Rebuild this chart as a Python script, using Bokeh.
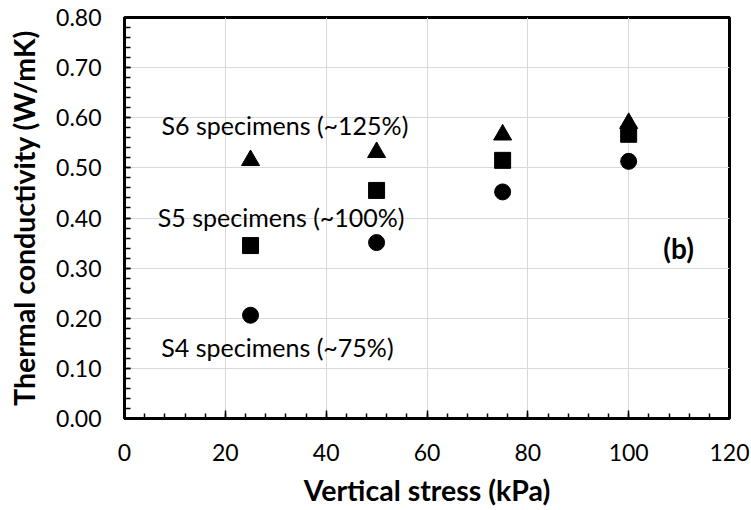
from bokeh.plotting import figure
from bokeh.models import SingleIntervalTicker, NumeralTickFormatter, Range1d
from bokeh.core.properties import value
from bokeh.embed import file_html
from bokeh.resources import INLINE

# Vertical stress levels (kPa)
stress = [25, 50, 75, 100]

# Thermal conductivity (W/mK) for each specimen group
s6_k = [0.515, 0.531, 0.566, 0.589]   # ~125%
s5_k = [0.345, 0.455, 0.515, 0.567]   # ~100%
s4_k = [0.206, 0.351, 0.452, 0.513]   # ~75%

x_ticks_interval = 20
y_ticks_interval = 0.1

FONT = "Lato"

p = figure(width=751, height=510, output_backend="svg", toolbar_location=None,
           x_range=Range1d(0, 120), y_range=Range1d(0, 0.8),
           min_border_left=124, min_border_right=22,
           min_border_top=17, min_border_bottom=92)

p.background_fill_color = "white"
p.border_fill_color = "white"
p.outline_line_color = "black"
p.outline_line_width = 3

# axes
p.xaxis.ticker = SingleIntervalTicker(interval=x_ticks_interval, num_minor_ticks=5)
p.yaxis.ticker = SingleIntervalTicker(interval=y_ticks_interval, num_minor_ticks=5)
p.yaxis.formatter = NumeralTickFormatter(format="0.00")

for ax in (p.xaxis, p.yaxis):
    ax.axis_line_color = "black"
    ax.axis_line_width = 3
    ax.major_tick_line_color = "black"
    ax.minor_tick_line_color = "black"
    ax.major_tick_line_width = 1.5
    ax.minor_tick_line_width = 1.5
    ax.major_tick_out = 0
    ax.minor_tick_out = 0
    ax.major_label_text_font = FONT
    ax.major_label_text_font_size = "23px"
    ax.major_label_text_color = "black"
    ax.axis_label_text_font = FONT
    ax.axis_label_text_font_style = "bold"
    ax.axis_label_text_font_size = "28.5px"
    ax.axis_label_text_color = "black"

p.xaxis.major_tick_in = 8
p.xaxis.minor_tick_in = 5
p.yaxis.major_tick_in = 6
p.yaxis.minor_tick_in = 6
p.xaxis.major_label_standoff = 25
p.yaxis.major_label_standoff = 23
p.xaxis.axis_label = "Vertical stress (kPa)"
p.yaxis.axis_label = "Thermal conductivity (W/mK)"
p.xaxis.axis_label_standoff = 9
p.yaxis.axis_label_standoff = 12

# grid
p.xgrid.grid_line_color = "#d9d9d9"
p.ygrid.grid_line_color = "#d9d9d9"
p.xgrid.grid_line_width = 1
p.ygrid.grid_line_width = 1

# data points
p.scatter(stress, s6_k, marker="triangle", size=18, color="black")
p.scatter(stress, s5_k, marker="square", size=16, color="black")
p.scatter(stress, s4_k, marker="circle", size=16, color="black")

# group labels
label_style = dict(text_font=value(FONT), text_font_size="25px", text_baseline="middle",
                   text_align="left", text_color="black")
p.text(x=[7.35], y=[0.586], text=["S6 specimens (~125%)"], **label_style)
p.text(x=[6.6], y=[0.402], text=["S5 specimens (~100%)"], **label_style)
p.text(x=[7.3], y=[0.143], text=["S4 specimens (~75%)"], **label_style)
p.text(x=[109.9], y=[0.341], text=["(b)"], text_font=value(FONT), text_font_style="bold",
       text_font_size="28px", text_baseline="middle", text_align="center", text_color="black")

open("out.html", "w").write(file_html(p, INLINE))
